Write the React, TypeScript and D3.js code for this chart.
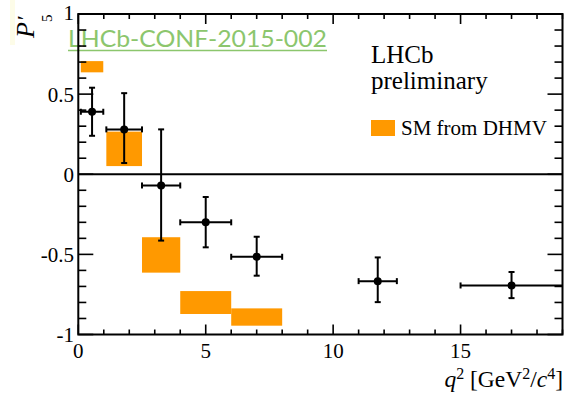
import React from "react";
import * as d3 from "d3";

// LHCb P'5 measurement per q^2 bin
const binLo = [0.1, 1.1, 2.5, 4, 6, 11, 15];
const binHi = [0.98, 2.5, 4, 6, 8, 12.5, 19];
const q2Center = [0.54, 1.8, 3.25, 5.0, 7.0, 11.75, 17.0];
const p5Value = [0.39, 0.28, -0.07, -0.3, -0.515, -0.667, -0.694];
const p5ErrUp = [0.15, 0.226, 0.35, 0.158, 0.125, 0.148, 0.084];
const p5ErrDown = [0.15, 0.21, 0.344, 0.156, 0.118, 0.131, 0.079];

// SM prediction (DHMV) bands
const smLo = [0.1, 1.1, 2.5, 4, 6];
const smHi = [0.98, 2.5, 4, 6, 8];
const smMin = [0.636, 0.051, -0.614, -0.872, -0.945];
const smMax = [0.706, 0.266, -0.393, -0.729, -0.837];

const xTickLabels = ["0", "5", "10", "15"];
const yTickLabels = ["-1", "-0.5", "0", "0.5", "1"];

const W = 565;
const H = 395;
const left = 78.3;
const right = 562.5;
const top = 14;
const bottom = 334.5;

const serif = "'Liberation Serif', 'Times New Roman', serif";
const orange = "#ff9900";

export default function App() {
  const x = d3.scaleLinear().domain([0, 19]).range([left, right]);
  const y = d3.scaleLinear().domain([-1, 1]).range([bottom, top]);

  const xMinor = d3.range(0, 20, 1);
  const xMajor = [0, 5, 10, 15];
  const yMinor = d3.range(-10, 11).map((v) => v / 10);
  const yMajor = [-1, -0.5, 0, 0.5, 1];

  const capX = 3;
  const capY = 3;

  return (
    <svg
      width={W}
      height={H}
      style={{ position: "absolute", left: 0, top: 0, background: "#fff" }}
    >
      <rect x={0} y={0} width={W} height={H} fill="#fff" />
      <rect x={10} y={0} width={5} height={45} fill="#fdfce8" />

      {/* SM bands */}
      {smLo.map((lo, i) => (
        <rect
          key={"sm" + i}
          x={x(lo)}
          y={y(smMax[i])}
          width={x(smHi[i]) - x(lo)}
          height={y(smMin[i]) - y(smMax[i])}
          fill={orange}
        />
      ))}

      {/* zero line */}
      <line x1={left} x2={right} y1={y(0)} y2={y(0)} stroke="#000" strokeWidth={2} />

      {/* experiment title */}
      <text
        x={68}
        y={47}
        fontFamily="Lato, 'Open Sans', sans-serif"
        fontSize={23}
        fill="#8cc66d"
        textLength={259}
        lengthAdjust="spacingAndGlyphs"
      >
        LHCb-CONF-2015-002
      </text>
      <line x1={68} x2={327} y1={50.5} y2={50.5} stroke="#8cc66d" strokeWidth={1.6} />

      {/* data points with error bars */}
      {q2Center.map((c, i) => {
        const cx = x(c);
        const cy = y(p5Value[i]);
        const yt = y(p5Value[i] + p5ErrUp[i]);
        const yb = y(p5Value[i] - p5ErrDown[i]);
        const xl = x(binLo[i]);
        const xr = x(binHi[i]);
        return (
          <g key={"pt" + i} stroke="#000" strokeWidth={2}>
            <line x1={xl} x2={xr} y1={cy} y2={cy} />
            <line x1={cx} x2={cx} y1={yt} y2={yb} />
            <line x1={cx - capX} x2={cx + capX} y1={yt} y2={yt} />
            <line x1={cx - capX} x2={cx + capX} y1={yb} y2={yb} />
            <line x1={xl} x2={xl} y1={cy - capY} y2={cy + capY} />
            {binHi[i] < 19 && <line x1={xr} x2={xr} y1={cy - capY} y2={cy + capY} />}
            <circle cx={cx} cy={cy} r={4} fill="#000" stroke="none" />
          </g>
        );
      })}

      {/* frame */}
      <rect
        x={left}
        y={top}
        width={right - left}
        height={bottom - top}
        fill="none"
        stroke="#000"
        strokeWidth={2}
      />

      {/* x ticks, bottom and top */}
      {xMinor.map((v) => {
        const len = xMajor.includes(v) ? 10 : 5;
        return (
          <g key={"xt" + v} stroke="#000" strokeWidth={1.6}>
            <line x1={x(v)} x2={x(v)} y1={bottom} y2={bottom - len} />
            <line x1={x(v)} x2={x(v)} y1={top} y2={top + len} />
          </g>
        );
      })}
      {/* y ticks, left and right */}
      {yMinor.map((v) => {
        const isMajor = yMajor.some((m) => Math.abs(m - v) < 1e-9);
        const len = isMajor ? 15 : 8;
        return (
          <g key={"yt" + v} stroke="#000" strokeWidth={1.6}>
            <line x1={left} x2={left + len} y1={y(v)} y2={y(v)} />
            <line x1={right} x2={right - len} y1={y(v)} y2={y(v)} />
          </g>
        );
      })}

      {/* tick labels */}
      {xMajor.map((v, i) => (
        <text
          key={"xl" + v}
          x={x(v)}
          y={358}
          textAnchor="middle"
          fontFamily={serif}
          fontSize={21}
          fill="#000"
        >
          {xTickLabels[i]}
        </text>
      ))}
      {yMajor.map((v, i) => (
        <text
          key={"yl" + v}
          x={74}
          y={v === 1 ? y(v) + 6 : y(v) + 7.5}
          textAnchor="end"
          fontFamily={serif}
          fontSize={21}
          fill="#000"
        >
          {yTickLabels[i]}
        </text>
      ))}

      {/* axis titles */}
      <text x={563} y={387} textAnchor="end" fontFamily={serif} fontSize={23.5} fill="#000">
        <tspan fontStyle="italic">q</tspan>
        <tspan fontSize={16} dy={-8}>2</tspan>
        <tspan dy={8}> [GeV</tspan>
        <tspan fontSize={16} dy={-8}>2</tspan>
        <tspan dy={8}>/</tspan>
        <tspan fontStyle="italic">c</tspan>
        <tspan fontSize={16} dy={-8}>4</tspan>
        <tspan dy={8}>]</tspan>
      </text>
      <text
        transform="translate(34,38) rotate(-90)"
        fontFamily={serif}
        fontStyle="italic"
        fontSize={26}
        fill="#000"
      >
        P
      </text>
      <text
        transform="translate(32,20) rotate(-90)"
        fontFamily={serif}
        fontSize={22}
        fill="#000"
      >
        ′
      </text>
      <text
        transform="translate(52,22) rotate(-90)"
        fontFamily={serif}
        fontSize={15}
        fill="#000"
      >
        5
      </text>

      {/* labels and legend */}
      <text x={371} y={63} fontFamily={serif} fontSize={25} fill="#000">
        LHCb
      </text>
      <text x={371} y={89} fontFamily={serif} fontSize={25} fill="#000">
        preliminary
      </text>
      <rect x={371} y={120} width={24} height={16} fill={orange} />
      <text x={401} y={135} fontFamily={serif} fontSize={21} fill="#000">
        SM from DHMV
      </text>
    </svg>
  );
}
